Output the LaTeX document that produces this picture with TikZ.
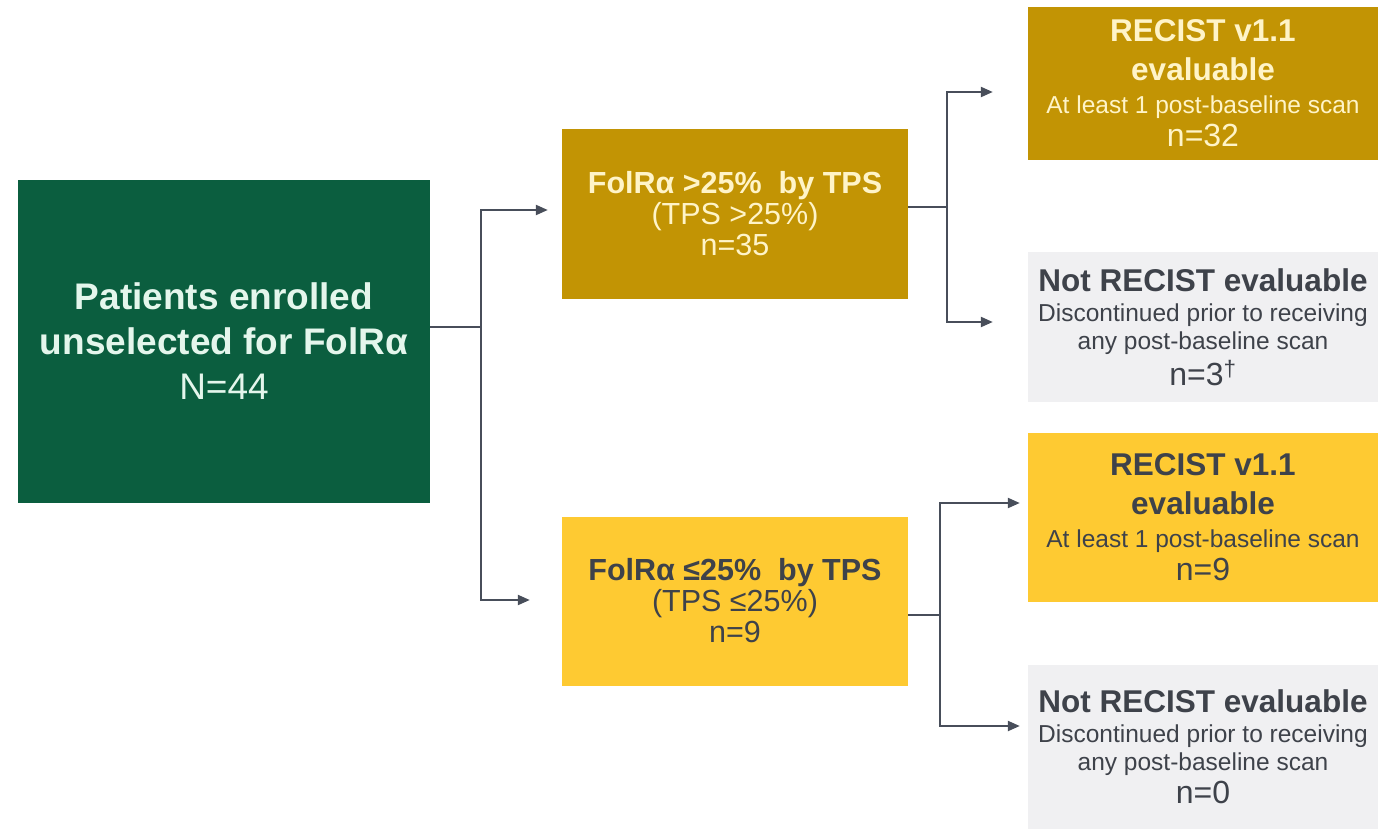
\documentclass[tikz,border=0pt]{standalone}
\usepackage{fontspec}
\setmainfont{Liberation Sans}
\usetikzlibrary{arrows.meta}

\definecolor{pgreen}{RGB}{11,94,63}
\definecolor{pgold}{RGB}{194,148,4}
\definecolor{pyellow}{RGB}{254,202,50}
\definecolor{pgray}{RGB}{240,240,242}
\definecolor{ptextlight}{RGB}{255,244,200}
\definecolor{ptextmint}{RGB}{228,246,236}
\definecolor{ptextdark}{RGB}{62,66,74}
\definecolor{plink}{RGB}{72,78,90}

\tikzset{
    box/.style={rectangle, inner sep=0pt, align=center},
    midbox/.style={box, minimum width=346pt, minimum height=169pt,
        font=\fontsize{30.5}{31}\selectfont},
    endbox/.style={box, minimum width=350pt},
    link/.style={draw=plink, line width=2.2pt},
    linkarrow/.style={link, -{Triangle[length=12pt, width=10pt]}}
}

\begin{document}
\begin{tikzpicture}[x=1pt, y=-1pt]
    \useasboundingbox (0, 0) rectangle (1392, 829);

    % left column
    \node[box, fill=pgreen, text=ptextmint, minimum width=412pt, minimum height=323pt,
        font=\fontsize{37}{45}\selectfont] (enrolled) at (224, 341.5)
        {\textbf{Patients enrolled}\\\textbf{unselected for FolRα}\\N=44};

    % middle column
    \node[midbox, fill=pgold, text=ptextlight] (high) at (735, 214)
        {\textbf{FolRα >25\%~ by TPS}\\(TPS >25\%)\\n=35};
    \node[midbox, fill=pyellow, text=ptextdark] (low) at (735, 601)
        {\textbf{FolRα ≤25\%~ by TPS}\\(TPS ≤25\%)\\n=9};

    % right column
    \node[endbox, fill=pgold, text=ptextlight, minimum height=153pt,
        font=\fontsize{24.5}{30}\selectfont] (higheval) at (1203, 83.5)
        {{\fontsize{31.5}{31}\selectfont\bfseries RECIST v1.1}\\[9pt]
         {\fontsize{31.5}{31}\selectfont\bfseries evaluable}\\[3pt]
         At least 1 post-baseline scan\\[3pt]
         {\fontsize{32}{32}\selectfont n=32}};
    \node[endbox, fill=pgray, text=ptextdark, minimum height=150pt,
        font=\fontsize{24.5}{28}\selectfont] (highnot) at (1203, 327)
        {{\fontsize{31.5}{31}\selectfont\bfseries Not RECIST evaluable}\\[2pt]
         Discontinued prior to receiving\\
         any post-baseline scan\\[5pt]
         {\fontsize{32}{32}\selectfont n=3\textsuperscript{†}}};
    \node[endbox, fill=pyellow, text=ptextdark, minimum height=169pt,
        font=\fontsize{24.5}{30}\selectfont] (loweval) at (1203, 517.5)
        {{\fontsize{31.5}{31}\selectfont\bfseries RECIST v1.1}\\[9pt]
         {\fontsize{31.5}{31}\selectfont\bfseries evaluable}\\[3pt]
         At least 1 post-baseline scan\\[3pt]
         {\fontsize{32}{32}\selectfont n=9}};
    \node[endbox, fill=pgray, text=ptextdark, minimum height=164pt,
        font=\fontsize{24.5}{28}\selectfont] (lownot) at (1203, 747)
        {{\fontsize{31.5}{31}\selectfont\bfseries Not RECIST evaluable}\\[2pt]
         Discontinued prior to receiving\\
         any post-baseline scan\\[5pt]
         {\fontsize{32}{32}\selectfont n=0}};

    % connectors
    \coordinate (splitA) at (481, 327);
    \coordinate (splitB) at (947, 207);
    \coordinate (splitC) at (940, 615);

    \draw[link] (enrolled.east |- splitA) -- (splitA);
    \draw[linkarrow] (splitA) |- ([xshift=-14pt, yshift=4pt]high.west);
    \draw[linkarrow] (splitA) |- ([xshift=-32pt, yshift=1pt]low.west);

    \draw[link] (high.east |- splitB) -- (splitB);
    \draw[linkarrow] (splitB) |- ([xshift=-35pt, yshift=-8.5pt]higheval.west);
    \draw[linkarrow] (splitB) |- ([xshift=-35pt, yshift=5pt]highnot.west);

    \draw[link] (low.east |- splitC) -- (splitC);
    \draw[linkarrow] (splitC) |- ([xshift=-8pt, yshift=14.5pt]loweval.west);
    \draw[linkarrow] (splitC) |- ([xshift=-8pt, yshift=21pt]lownot.west);
\end{tikzpicture}
\end{document}
